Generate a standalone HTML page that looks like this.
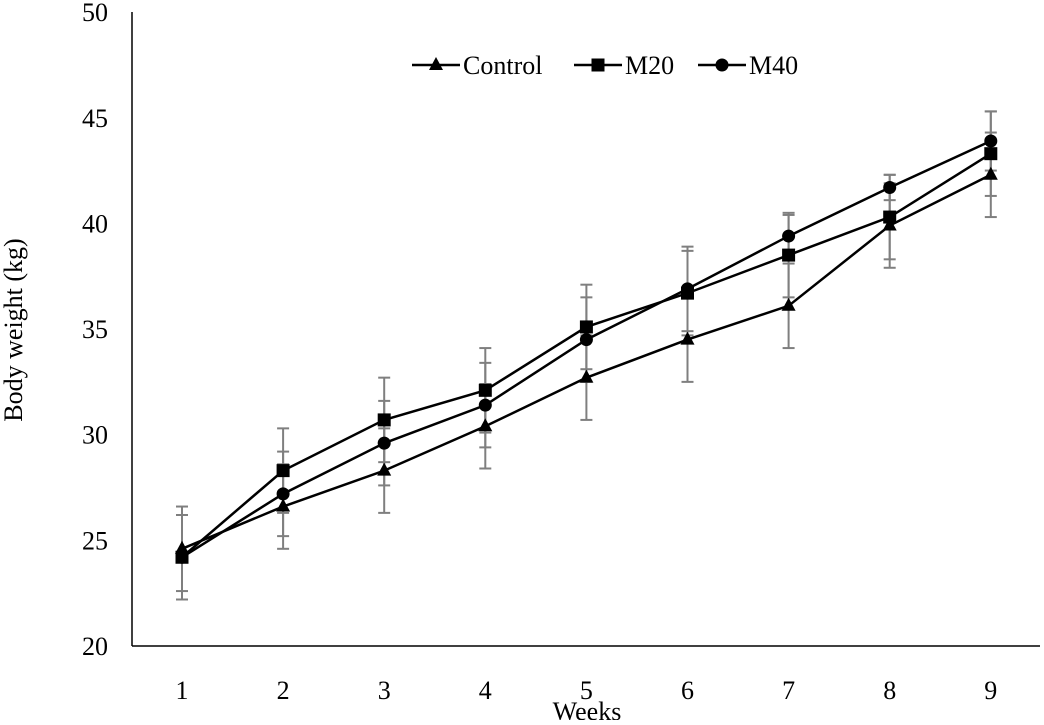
<!DOCTYPE html>
<html><head><meta charset="utf-8"><style>
body{margin:0;background:#fff}
svg text{font-family:"Liberation Serif",serif;fill:#000}
</style></head><body>
<svg id="chart" width="1044" height="720" xmlns="http://www.w3.org/2000/svg">
<g id="axes"></g>
<g id="bars"></g>
<g id="series"></g>
<g id="legend"></g>
<text x="587" y="720" font-size="26" text-anchor="middle">Weeks</text>
<text transform="translate(22,330) rotate(-90)" font-size="26" text-anchor="middle">Body weight (kg)</text>
</svg>
<script>
const weeks = [1,2,3,4,5,6,7,8,9];
const yTicks = [20,25,30,35,40,45,50];
const control = [24.6,26.6,28.3,30.4,32.7,34.5,36.1,39.9,42.3];
const m20 = [24.2,28.3,30.7,32.1,35.1,36.7,38.5,40.3,43.3];
const m40 = [24.2,27.2,29.6,31.4,34.5,36.9,39.4,41.7,43.9];
const errControl = [2,2,2,2,2,2,2,2,2];
const errM20 = [2,2,2,2,2,2,2,2,2];
const errM40 = [2,2,2,2,2,2,1,0.6,1.4];

const NS="http://www.w3.org/2000/svg";
const X=w=>182+(w-1)*101.1;
const Y=v=>646-(v-20)*21.13;
function mk(tag,attrs,parent){const e=document.createElementNS(NS,tag);for(const k in attrs)e.setAttribute(k,attrs[k]);parent.appendChild(e);return e;}
const axes=document.getElementById('axes');
let l=mk('line',{x1:132,y1:12,x2:132,y2:646,stroke:'#000','stroke-width':1.5},axes);


l=mk('line',{x1:132,y1:646,x2:1040,y2:646,stroke:'#000','stroke-width':1.5},axes);


yTicks.forEach(t=>{const e=mk('text',{x:108,y:Y(t)+9,'font-size':26,'text-anchor':'end'},axes);e.textContent=t;

});
weeks.forEach(w=>{const e=mk('text',{x:X(w),y:699,'font-size':26,'text-anchor':'middle'},axes);e.textContent=w;

});
const bars=document.getElementById('bars');
[[control,errControl],[m20,errM20],[m40,errM40]].forEach(([s,e])=>{
 s.forEach((v,i)=>{const x=X(weeks[i]),y1=Y(v-e[i]),y2=Y(v+e[i]);
  const g=mk('g',{stroke:'#7f7f7f','stroke-width':2},bars);
  
  
  mk('line',{x1:x,y1:y1,x2:x,y2:y2},g);
  mk('line',{x1:x-6,y1:y1,x2:x+6,y2:y1},g);
  mk('line',{x1:x-6,y1:y2,x2:x+6,y2:y2},g);
 });
});
function marker(type,x,y,parent){
 if(type==='tri')return mk('polygon',{points:`${x},${y-8} ${x-7},${y+5} ${x+7},${y+5}`,fill:'#000'},parent);
 if(type==='sq')return mk('rect',{x:x-6.5,y:y-6.5,width:13,height:13,fill:'#000'},parent);
 return mk('circle',{cx:x,cy:y,r:6.5,fill:'#000'},parent);
}
const series=document.getElementById('series');
[[control,'tri','control'],[m20,'sq','m20'],[m40,'circ','m40']].forEach(([s,t,n])=>{
 const g=mk('g',{},series);
 
 
 const p=mk('polyline',{points:s.map((v,i)=>X(weeks[i])+','+Y(v)).join(' '),fill:'none',stroke:'#000','stroke-width':2.5},g);
 
 
 s.forEach((v,i)=>{const m=marker(t,X(weeks[i]),Y(v),g);
  
  });
});
const leg=document.getElementById('legend');
[['Control','tri',412],['M20','sq',574],['M40','circ',698]].forEach(([lab,t,x0])=>{
 const g=mk('g',{},leg);
 
 
 mk('line',{x1:x0,y1:65,x2:x0+48,y2:65,stroke:'#000','stroke-width':2.5},g);
 marker(t,x0+24,65,g);
 const e=mk('text',{x:x0+51,y:74,'font-size':26},g);e.textContent=lab;
});
</script>
</body></html>
